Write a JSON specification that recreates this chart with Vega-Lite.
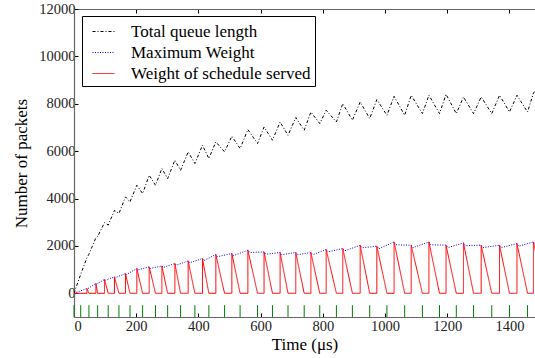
{
  "$schema": "https://vega.github.io/schema/vega-lite/v6.json",
  "width": 461,
  "height": 308,
  "autosize": {"type": "none"},
  "padding": {"left": 74, "top": 9, "right": 0, "bottom": 41},
  "background": "white",
  "config": {
    "view": {"stroke": null},
    "font": "Liberation Serif, Times New Roman, serif",
    "axis": {"labelFont": "Liberation Serif, Times New Roman, serif", "titleFont": "Liberation Serif, Times New Roman, serif"},
    "legend": {
      "orient": "none",
      "legendX": 8,
      "legendY": 7,
      "strokeColor": "#000",
      "fillColor": "#fff",
      "padding": 4,
      "cornerRadius": 0,
      "symbolType": "stroke",
      "symbolSize": 484,
      "symbolStrokeWidth": 1,
      "symbolOffset": 6,
      "labelFont": "Liberation Serif, Times New Roman, serif",
      "labelFontSize": 17,
      "labelColor": "#000",
      "labelOffset": 16,
      "labelLimit": 400,
      "rowPadding": 1
    }
  },
  "datasets": {
    "queue": [
      {"t": 0, "v": 0}, {"t": 21.5, "v": 800}, {"t": 41.5, "v": 1500}, {"t": 48, "v": 1650},
      {"t": 70.4, "v": 2350}, {"t": 76, "v": 2400}, {"t": 98, "v": 2980}, {"t": 110, "v": 2880},
      {"t": 130, "v": 3500}, {"t": 144.5, "v": 3370}, {"t": 165.5, "v": 4070}, {"t": 180, "v": 3860},
      {"t": 202, "v": 4560}, {"t": 220.6, "v": 4210}, {"t": 241.7, "v": 4980}, {"t": 262, "v": 4560},
      {"t": 282.5, "v": 5270}, {"t": 301, "v": 4840}, {"t": 324.3, "v": 5620}, {"t": 342.6, "v": 5190},
      {"t": 367, "v": 5970}, {"t": 388.6, "v": 5480}, {"t": 413, "v": 6250}, {"t": 433.5, "v": 5690},
      {"t": 456, "v": 6390}, {"t": 484, "v": 5970}, {"t": 507.5, "v": 6630}, {"t": 534, "v": 6110},
      {"t": 559, "v": 6910}, {"t": 590, "v": 6320}, {"t": 611, "v": 7020}, {"t": 638, "v": 6460},
      {"t": 662.6, "v": 7230}, {"t": 688, "v": 6670}, {"t": 713, "v": 7420}, {"t": 740, "v": 6880},
      {"t": 761.5, "v": 7650}, {"t": 790, "v": 7165}, {"t": 810.7, "v": 7726}, {"t": 843.6, "v": 7232},
      {"t": 864, "v": 8008}, {"t": 895, "v": 7304}, {"t": 920, "v": 8076}, {"t": 950.6, "v": 7376},
      {"t": 973.6, "v": 8177}, {"t": 1006, "v": 7515}, {"t": 1029, "v": 8316}, {"t": 1063, "v": 7515},
      {"t": 1084, "v": 8358}, {"t": 1120, "v": 7586}, {"t": 1141, "v": 8358}, {"t": 1175, "v": 7586},
      {"t": 1196, "v": 8401}, {"t": 1229, "v": 7586}, {"t": 1252, "v": 8287}, {"t": 1284.5, "v": 7586},
      {"t": 1309, "v": 8287}, {"t": 1343, "v": 7586}, {"t": 1368, "v": 8358}, {"t": 1400, "v": 7654},
      {"t": 1424, "v": 8358}, {"t": 1458, "v": 7654}, {"t": 1477, "v": 8450}, {"t": 1490, "v": 8650}
    ],
    "maxweight": [
      {"t": 0, "v": 0},
      {"t": 41.5, "v": 202}, {"t": 44, "v": 195},
      {"t": 70.4, "v": 413}, {"t": 73, "v": 395},
      {"t": 98, "v": 582}, {"t": 101, "v": 555},
      {"t": 130, "v": 692}, {"t": 133, "v": 660},
      {"t": 165.5, "v": 835}, {"t": 169, "v": 795},
      {"t": 202, "v": 1046}, {"t": 206, "v": 990},
      {"t": 241.7, "v": 1114}, {"t": 246, "v": 1050},
      {"t": 282.5, "v": 1156}, {"t": 287, "v": 1090},
      {"t": 324.3, "v": 1257}, {"t": 329, "v": 1185},
      {"t": 367, "v": 1367}, {"t": 372, "v": 1290},
      {"t": 413, "v": 1468}, {"t": 418, "v": 1385},
      {"t": 456, "v": 1637}, {"t": 461, "v": 1545},
      {"t": 507.5, "v": 1679}, {"t": 513, "v": 1590},
      {"t": 559, "v": 1819}, {"t": 565, "v": 1720},
      {"t": 611, "v": 1747}, {"t": 617, "v": 1650},
      {"t": 662.6, "v": 1721}, {"t": 668, "v": 1630},
      {"t": 713, "v": 1721}, {"t": 719, "v": 1630},
      {"t": 761.5, "v": 1721}, {"t": 768, "v": 1630},
      {"t": 810.7, "v": 1848}, {"t": 817, "v": 1750},
      {"t": 864, "v": 1890}, {"t": 870, "v": 1790},
      {"t": 920, "v": 2030}, {"t": 926, "v": 1920},
      {"t": 973.6, "v": 1987}, {"t": 980, "v": 1880},
      {"t": 1029, "v": 2169}, {"t": 1035, "v": 2050},
      {"t": 1084, "v": 2030}, {"t": 1090, "v": 1930},
      {"t": 1141, "v": 2169}, {"t": 1147, "v": 2050},
      {"t": 1196, "v": 2030}, {"t": 1202, "v": 1930},
      {"t": 1252, "v": 2127}, {"t": 1258, "v": 2010},
      {"t": 1309, "v": 2030}, {"t": 1315, "v": 1930},
      {"t": 1368, "v": 2030}, {"t": 1374, "v": 1930},
      {"t": 1424, "v": 2101}, {"t": 1430, "v": 1990},
      {"t": 1477, "v": 2169}, {"t": 1483, "v": 2060}
    ],
    "served": [
      {"t": 0, "v": 0},
      {"t": 41.5, "v": 0}, {"t": 41.5, "v": 202}, {"t": 48, "v": 0},
      {"t": 70.4, "v": 0}, {"t": 70.4, "v": 413}, {"t": 76, "v": 0},
      {"t": 98, "v": 0}, {"t": 98, "v": 582}, {"t": 110, "v": 0},
      {"t": 130, "v": 0}, {"t": 130, "v": 692}, {"t": 144.5, "v": 0},
      {"t": 165.5, "v": 0}, {"t": 165.5, "v": 835}, {"t": 180, "v": 0},
      {"t": 202, "v": 0}, {"t": 202, "v": 1046}, {"t": 220.6, "v": 0},
      {"t": 241.7, "v": 0}, {"t": 241.7, "v": 1114}, {"t": 262, "v": 0},
      {"t": 282.5, "v": 0}, {"t": 282.5, "v": 1156}, {"t": 301, "v": 0},
      {"t": 324.3, "v": 0}, {"t": 324.3, "v": 1257}, {"t": 342.6, "v": 0},
      {"t": 367, "v": 0}, {"t": 367, "v": 1367}, {"t": 388.6, "v": 0},
      {"t": 413, "v": 0}, {"t": 413, "v": 1468}, {"t": 433.5, "v": 0},
      {"t": 456, "v": 0}, {"t": 456, "v": 1637}, {"t": 484, "v": 0},
      {"t": 507.5, "v": 0}, {"t": 507.5, "v": 1679}, {"t": 534, "v": 0},
      {"t": 559, "v": 0}, {"t": 559, "v": 1819}, {"t": 590, "v": 0},
      {"t": 611, "v": 0}, {"t": 611, "v": 1747}, {"t": 638, "v": 0},
      {"t": 662.6, "v": 0}, {"t": 662.6, "v": 1721}, {"t": 688, "v": 0},
      {"t": 713, "v": 0}, {"t": 713, "v": 1721}, {"t": 740, "v": 0},
      {"t": 761.5, "v": 0}, {"t": 761.5, "v": 1721}, {"t": 790, "v": 0},
      {"t": 810.7, "v": 0}, {"t": 810.7, "v": 1848}, {"t": 843.6, "v": 0},
      {"t": 864, "v": 0}, {"t": 864, "v": 1890}, {"t": 895, "v": 0},
      {"t": 920, "v": 0}, {"t": 920, "v": 2030}, {"t": 950.6, "v": 0},
      {"t": 973.6, "v": 0}, {"t": 973.6, "v": 1987}, {"t": 1006, "v": 0},
      {"t": 1029, "v": 0}, {"t": 1029, "v": 2169}, {"t": 1063, "v": 0},
      {"t": 1084, "v": 0}, {"t": 1084, "v": 2030}, {"t": 1120, "v": 0},
      {"t": 1141, "v": 0}, {"t": 1141, "v": 2169}, {"t": 1175, "v": 0},
      {"t": 1196, "v": 0}, {"t": 1196, "v": 2030}, {"t": 1229, "v": 0},
      {"t": 1252, "v": 0}, {"t": 1252, "v": 2127}, {"t": 1284.5, "v": 0},
      {"t": 1309, "v": 0}, {"t": 1309, "v": 2030}, {"t": 1343, "v": 0},
      {"t": 1368, "v": 0}, {"t": 1368, "v": 2030}, {"t": 1400, "v": 0},
      {"t": 1424, "v": 0}, {"t": 1424, "v": 2101}, {"t": 1458, "v": 0},
      {"t": 1477, "v": 0}, {"t": 1477, "v": 2169}, {"t": 1512, "v": 0}
    ],
    "schedules": [
      {"t": 0}, {"t": 21.5}, {"t": 48}, {"t": 76}, {"t": 110}, {"t": 144.5}, {"t": 180},
      {"t": 220.6}, {"t": 262}, {"t": 301}, {"t": 342.6}, {"t": 388.6}, {"t": 433.5},
      {"t": 484}, {"t": 534}, {"t": 590}, {"t": 638}, {"t": 688}, {"t": 740}, {"t": 790},
      {"t": 843.6}, {"t": 895}, {"t": 950.6}, {"t": 1006}, {"t": 1063}, {"t": 1120},
      {"t": 1175}, {"t": 1229}, {"t": 1284.5}, {"t": 1343}, {"t": 1400}, {"t": 1458}
    ]
  },
  "resolve": {"axis": {"x": "independent", "y": "independent"}},
  "layer": [
    {
      "mark": {"type": "rule", "color": "#000", "strokeWidth": 1},
      "encoding": {
        "y": {"datum": 0, "type": "quantitative", "scale": {"domain": [-1000, 12000], "nice": false, "zero": false}, "axis": null}
      }
    },
    {
      "data": {"name": "queue"},
      "mark": {"type": "line", "strokeWidth": 1, "clip": true},
      "encoding": {
        "x": {
          "field": "t", "type": "quantitative",
          "scale": {"domain": [0, 1482], "nice": false, "zero": false},
          "axis": {
            "orient": "bottom", "values": [0, 200, 400, 600, 800, 1000, 1200, 1400], "format": "d", "grid": false,
            "domainColor": "#666", "domainWidth": 1.2, "tickColor": "#000", "tickSize": -4, "tickWidth": 1,
            "labelFontSize": 14.5, "labelColor": "#222", "labelPadding": 6,
            "title": "Time (μs)", "titleFontSize": 17,
            "titleFontWeight": "normal", "titleColor": "#000", "titlePadding": 4
          }
        },
        "y": {
          "field": "v", "type": "quantitative",
          "scale": {"domain": [-1000, 12000], "nice": false, "zero": false},
          "axis": {
            "values": [0, 2000, 4000, 6000, 8000, 10000, 12000], "format": "d", "grid": false,
            "domainColor": "#666", "domainWidth": 1.2, "tickColor": "#000", "tickSize": -4, "tickWidth": 1,
            "labelFontSize": 14.5, "labelColor": "#222", "labelPadding": 3,
            "title": "Number of packets", "titleFontSize": 17,
            "titleFontWeight": "normal", "titleColor": "#000", "titlePadding": 8
          }
        },
        "color": {
          "datum": "Total queue length",
          "scale": {"domain": ["Total queue length", "Maximum Weight", "Weight of schedule served"], "range": ["#000000", "#0000ff", "#ff0000"]},
          "legend": {"title": null}
        },
        "strokeDash": {
          "datum": "Total queue length",
          "scale": {"domain": ["Total queue length", "Maximum Weight", "Weight of schedule served"], "range": [[3, 2, 1, 2], [1, 1.5], [1, 0]]},
          "legend": {"title": null}
        }
      }
    },
    {
      "data": {"name": "maxweight"},
      "mark": {"type": "line", "strokeWidth": 1, "clip": true},
      "encoding": {
        "x": {"field": "t", "type": "quantitative", "scale": {"domain": [0, 1482], "nice": false, "zero": false}, "axis": null},
        "y": {"field": "v", "type": "quantitative", "scale": {"domain": [-1000, 12000], "nice": false, "zero": false}, "axis": null},
        "color": {"datum": "Maximum Weight", "legend": {"title": null}},
        "strokeDash": {"datum": "Maximum Weight", "legend": {"title": null}}
      }
    },
    {
      "data": {"name": "served"},
      "mark": {"type": "line", "strokeWidth": 1, "clip": true},
      "encoding": {
        "x": {"field": "t", "type": "quantitative", "scale": {"domain": [0, 1482], "nice": false, "zero": false}, "axis": null},
        "y": {"field": "v", "type": "quantitative", "scale": {"domain": [-1000, 12000], "nice": false, "zero": false}, "axis": null},
        "color": {"datum": "Weight of schedule served", "legend": {"title": null}},
        "strokeDash": {"datum": "Weight of schedule served", "legend": {"title": null}}
      }
    },
    {
      "data": {"name": "schedules"},
      "mark": {"type": "rule", "color": "#008000", "strokeWidth": 1},
      "encoding": {
        "x": {
          "field": "t", "type": "quantitative",
          "scale": {"domain": [0, 1482], "nice": false, "zero": false},
          "axis": {
            "orient": "top", "values": [0, 200, 400, 600, 800, 1000, 1200, 1400], "grid": false,
            "labels": false, "title": null,
            "domainColor": "#666", "domainWidth": 1.2, "tickColor": "#000", "tickSize": -4, "tickWidth": 1
          }
        },
        "y": {"datum": -500, "type": "quantitative", "scale": {"domain": [-1000, 12000], "nice": false, "zero": false}, "axis": null},
        "y2": {"datum": -1000}
      }
    }
  ]
}
